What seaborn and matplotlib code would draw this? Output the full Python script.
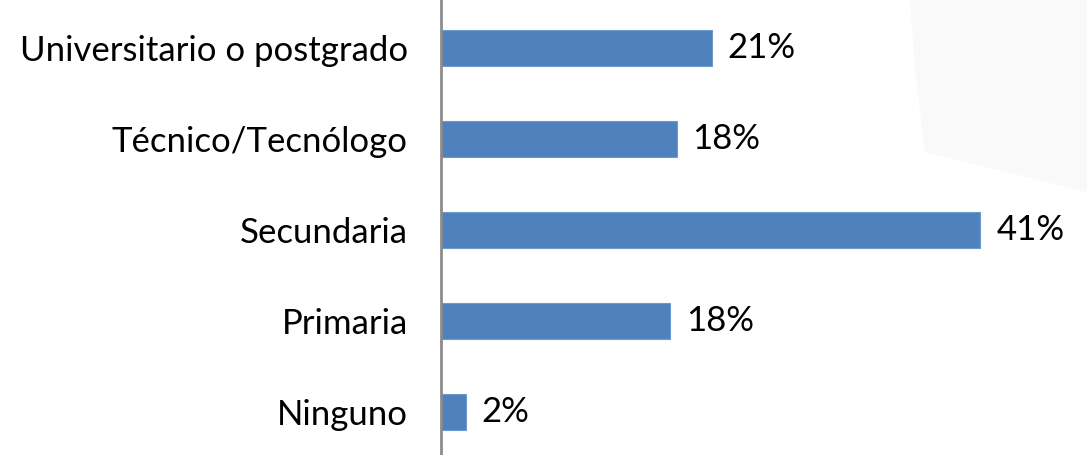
import pandas as pd
import matplotlib.pyplot as plt
import seaborn as sns
from matplotlib.patches import Polygon

# Data
categories = ['Universitario o postgrado', 'Técnico/Tecnólogo', 'Secundaria', 'Primaria', 'Ninguno']
values = [20.6, 17.9, 41.0, 17.4, 1.9]
labels = ['21%', '18%', '41%', '18%', '2%']

df = pd.DataFrame({'nivel': categories, 'pct': values})

sns.set_style('white')
plt.rcParams['font.family'] = ['Lato', 'DejaVu Sans']

fig = plt.figure(figsize=(10.87, 4.55), dpi=100)

# faint grey shading in the top right corner
shade = Polygon([(910 / 1087, 1), (1, 1), (1, 1 - 192 / 455), (925 / 1087, 1 - 152 / 455),
                 (915 / 1087, 1 - 70 / 455)],
                closed=True, transform=fig.transFigure, facecolor='#f9f9f9', edgecolor='none', zorder=0)
fig.patches.append(shade)

ax = fig.add_axes([441 / 1087, 0, 1 - 441 / 1087, 1])
ax.patch.set_alpha(0)
sns.barplot(data=df, x='pct', y='nivel', color='#4F81BD', width=0.4, saturation=1,
            edgecolor='#6f9ad0', linewidth=0.8, ax=ax)

for i, (v, lab) in enumerate(zip(values, labels)):
    ax.text(v + 1.2, i, lab, va='center', ha='left', fontsize=25, color='black')

ax.set_xlim(0, 49.1)
ax.set_ylim(4.47, -0.53)
ax.set_xlabel('')
ax.set_ylabel('')
ax.set_xticks([])
ax.tick_params(axis='y', length=0, pad=24, labelsize=25, labelcolor='black')
for s in ['top', 'right', 'bottom']:
    ax.spines[s].set_visible(False)
ax.spines['left'].set_color('#8c8c8c')
ax.spines['left'].set_linewidth(2)

fig.savefig('out.png', dpi=100)
